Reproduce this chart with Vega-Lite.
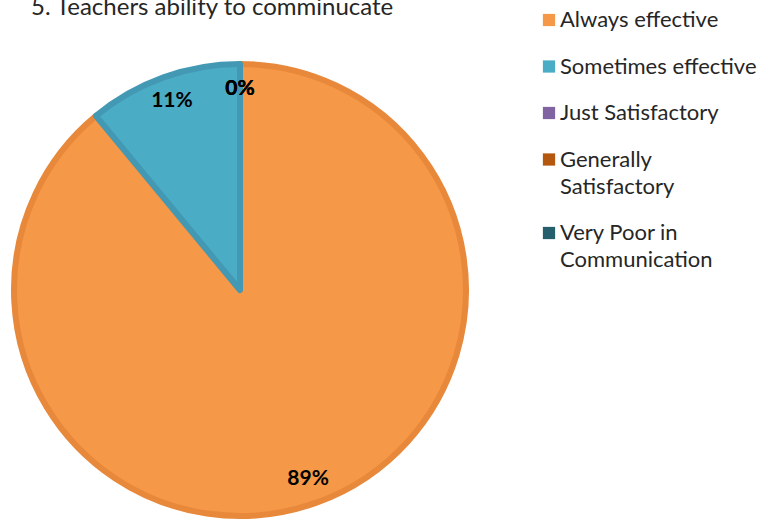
{
  "$schema": "https://vega.github.io/schema/vega-lite/v6.json",
  "autosize": "none",
  "width": 480,
  "height": 464,
  "padding": {"left": 0, "top": 58, "right": 288, "bottom": 0},
  "background": "white",
  "title": {
    "text": "5. Teachers ability to comminucate",
    "anchor": "start",
    "frame": "group",
    "font": "Lato",
    "fontSize": 24,
    "fontWeight": "normal",
    "color": "#262626",
    "baseline": "alphabetic",
    "offset": -7,
    "dy": 23,
    "dx": 31
  },
  "config": {
    "view": {"stroke": null},
    "style": {"guide-label": {"lineHeight": 27}}
  },
  "data": {
    "values": [
      {"category": "Always effective", "value": 89, "n": 1, "label": "89%"},
      {"category": "Sometimes effective", "value": 11, "n": 2, "label": "11%"},
      {"category": "Just Satisfactory", "value": 0, "n": 3, "label": "0%"},
      {"category": "Generally Satisfactory", "value": 0, "n": 4, "label": "0%"},
      {"category": "Very Poor in Communication", "value": 0, "n": 5, "label": "0%"}
    ]
  },
  "encoding": {
    "theta": {"field": "value", "type": "quantitative", "stack": true},
    "order": {"field": "n", "type": "quantitative"}
  },
  "layer": [
    {
      "mark": {"type": "arc", "radius": 226, "strokeWidth": 6, "strokeJoin": "round"},
      "encoding": {
        "color": {
          "field": "category",
          "type": "nominal",
          "sort": ["Always effective", "Sometimes effective", "Just Satisfactory", "Generally Satisfactory", "Very Poor in Communication"],
          "scale": {
            "domain": ["Always effective", "Sometimes effective", "Just Satisfactory", "Generally Satisfactory", "Very Poor in Communication"],
            "range": ["#F59847", "#4BACC6", "#8064A2", "#B5580F", "#255F6E"]
          },
          "legend": {
            "title": null,
            "orient": "none",
            "legendX": 538,
            "legendY": -49,
            "padding": 0,
            "symbolType": "square",
            "symbolSize": 150,
            "symbolStrokeWidth": 0,
            "labelFont": "Lato",
            "labelFontSize": 22,
            "labelColor": "#262626",
            "labelOffset": 0,
            "labelLimit": 300,
            "rowPadding": 24.5,
            "labelExpr": "datum.label == 'Generally Satisfactory' ? ['Generally', 'Satisfactory'] : datum.label == 'Very Poor in Communication' ? ['Very Poor in', 'Communication'] : datum.label"
          }
        },
        "stroke": {
          "field": "category",
          "type": "nominal",
          "scale": {
            "domain": ["Always effective", "Sometimes effective", "Just Satisfactory", "Generally Satisfactory", "Very Poor in Communication"],
            "range": ["#E8883A", "#4399B3", "#6E5590", "#9E4C0D", "#1F505E"]
          },
          "legend": null
        },
        "strokeOpacity": {"condition": {"test": "datum.value == 0", "value": 0}, "value": 1}
      }
    },
    {
      "mark": {"type": "text", "radius": 201, "font": "Lato", "fontSize": 21, "fontWeight": "bold", "color": "#000000", "baseline": "middle"},
      "encoding": {
        "text": {"field": "label", "type": "nominal"}
      }
    }
  ]
}
